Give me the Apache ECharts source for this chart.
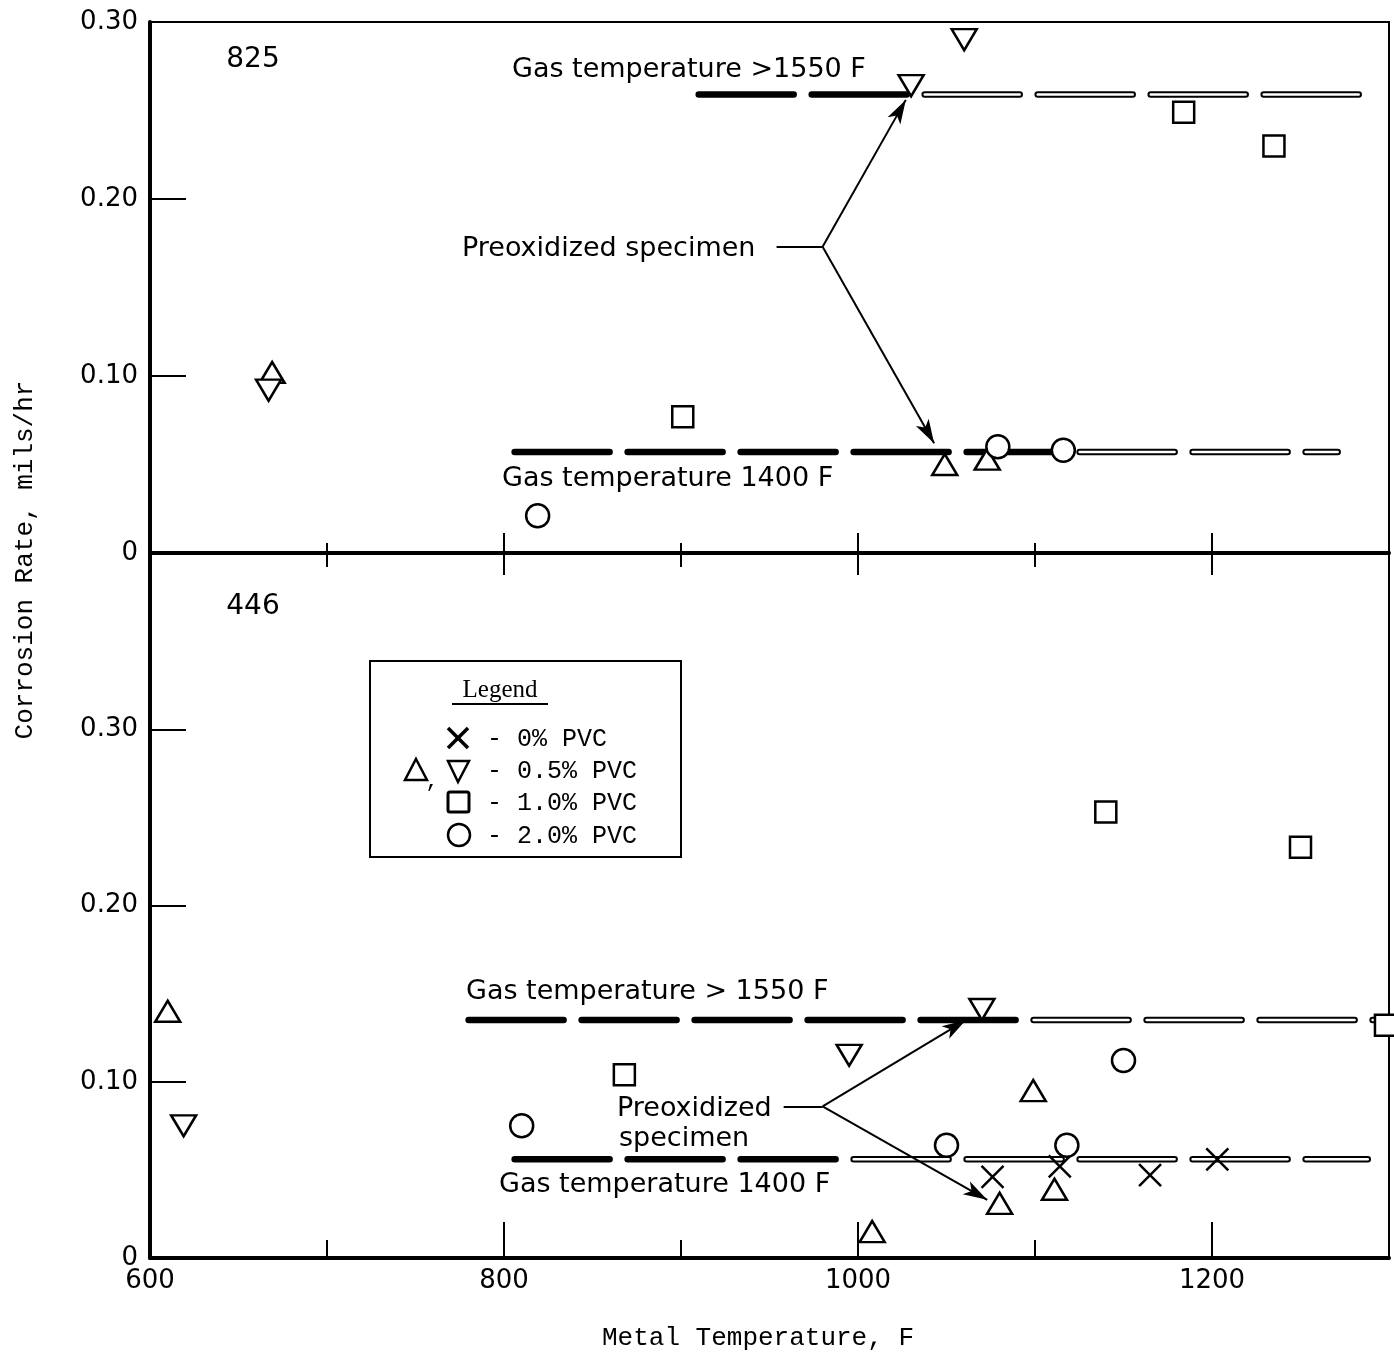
<!DOCTYPE html>
<html>
<head>
<meta charset="utf-8">
<title>Corrosion rate vs metal temperature</title>
<script src="https://cdn.jsdelivr.net/npm/echarts@6/dist/echarts.min.js"></script>
<style>
  html, body { margin: 0; padding: 0; background: #fff; }
  #main { width: 1394px; height: 1355px; }
</style>
</head>
<body>
<div id="main"></div>
<script>
// axis ranges
var xMin = 600, xMax = 1300;
var topYMax = 0.30, botYMax = 0.40;

// ---- alloy 825 (upper panel) ----
var top05Up = [[669, 0.102], [1049, 0.050], [1073, 0.053]];
var top05Down = [[667, 0.092], [1060, 0.290], [1030, 0.264]];
var top10 = [[901, 0.077], [1184, 0.249], [1235, 0.230]];
var top20 = [[819, 0.021], [1079, 0.060], [1116, 0.058]];
var topGasHigh = [[910, 0.259], [1289, 0.259]];
var topGasLow = [[806, 0.057], [1271, 0.057]];
// preoxidized pointer: lead start, fork, arrow tips
var topPointer = [[954, 0.173], [980, 0.173], [1027, 0.256], [1043, 0.062]];

// ---- alloy 446 (lower panel) ----
var bot00 = [[1076, 0.046], [1114, 0.052], [1165, 0.047], [1203, 0.056]];
var bot05Up = [[610, 0.140], [1008, 0.015], [1080, 0.031], [1099, 0.095], [1111, 0.039]];
var bot05Down = [[619, 0.075], [995, 0.115], [1070, 0.141]];
var bot10 = [[868, 0.104], [1140, 0.253], [1250, 0.233], [1298, 0.132]];
var bot20 = [[810, 0.075], [1050, 0.064], [1118, 0.064], [1150, 0.112]];
var botGasHigh = [[780, 0.135], [1298, 0.135]];
var botGasLow = [[806, 0.056], [1288, 0.056]];
var botPointer = [[958, 0.086], [980, 0.086], [1061, 0.135], [1073, 0.033]];

var myChart = echarts.init(document.getElementById('main'));

var sans = 'DejaVu Sans';
var mono = 'Liberation Mono';

function yFmt(v) {
    return v === 0 ? '0' : v.toFixed(2);
}

// open marker styles
var mk = { color: '#fff', borderColor: '#000', borderWidth: 2.5, opacity: 1 };
var crossPath = 'path://M0,0L20,20M20,0L0,20';

function scatter(data, symbol, size, rotate, xi, yi, extra) {
    var s = {
        type: 'scatter',
        data: data,
        symbol: symbol,
        symbolSize: size,
        symbolRotate: rotate,
        xAxisIndex: xi,
        yAxisIndex: yi,
        itemStyle: mk,
        clip: false,
        silent: true,
        z: 5
    };
    if (extra) {
        for (var k in extra) s[k] = extra[k];
    }
    return s;
}

// hollow part of the gas temperature dashes starts at frac
function hollow(frac) {
    return new echarts.graphic.LinearGradient(0, 0, 1, 0, [
        { offset: 0, color: 'rgba(255,255,255,0)' },
        { offset: frac, color: 'rgba(255,255,255,0)' },
        { offset: frac, color: '#fff' },
        { offset: 1, color: '#fff' }
    ]);
}

function gasLine(data, xi, yi, frac) {
    return [{
        type: 'line', data: data, xAxisIndex: xi, yAxisIndex: yi,
        symbol: 'none', silent: true, z: 2,
        lineStyle: { color: '#000', width: 6.5, type: [95, 18], cap: 'round' }
    }, {
        type: 'line', data: data, xAxisIndex: xi, yAxisIndex: yi,
        symbol: 'none', silent: true, z: 3,
        lineStyle: { color: hollow(frac), width: 2.5, type: [95, 18], cap: 'round' }
    }];
}

function pointer(p) {
    return {
        silent: true,
        animation: false,
        symbol: ['none', 'arrow'],
        symbolSize: [11, 24],
        label: { show: false },
        lineStyle: { color: '#000', width: 2, type: 'solid', opacity: 1 },
        data: [
            [{ coord: p[0], symbol: 'none' }, { coord: p[1], symbol: 'none' }],
            [{ coord: p[1] }, { coord: p[2] }],
            [{ coord: p[1] }, { coord: p[3] }]
        ]
    };
}

function xAx(grid, pos, interval, tickLen, showLine, showLabel) {
    return {
        type: 'value', gridIndex: grid, position: pos,
        min: xMin, max: xMax, interval: interval,
        axisLine: { show: showLine, onZero: false, lineStyle: { color: '#000', width: 4 } },
        axisTick: { show: true, inside: true, length: tickLen, lineStyle: { color: '#000', width: 2 } },
        axisLabel: {
            show: showLabel, color: '#000', fontFamily: sans, fontSize: 26, margin: 10,
            showMaxLabel: false,
            formatter: function (v) { return String(v); }
        },
        splitLine: { show: false }
    };
}

function yAx(grid, max) {
    return {
        type: 'value', gridIndex: grid, min: 0, max: max, interval: 0.1,
        axisLine: { show: true, onZero: false, lineStyle: { color: '#000', width: 4 } },
        axisTick: { show: true, inside: true, length: 36, lineStyle: { color: '#000', width: 2 } },
        axisLabel: {
            color: '#000', fontFamily: sans, fontSize: 26, margin: 12,
            showMaxLabel: grid === 0, formatter: yFmt
        },
        splitLine: { show: false }
    };
}

function txt(x, y, s, font, align) {
    return {
        type: 'text', x: x, y: y, silent: true, z: 10,
        style: { text: s, font: font, fill: '#000', align: align || 'left', verticalAlign: 'middle' }
    };
}

var annFont = '27px ' + sans;
var legFont = '25px ' + mono;

var graphics = [
    txt(253, 60, '825', '28px ' + sans, 'center'),
    txt(512, 70, 'Gas temperature >1550 F', annFont),
    txt(462, 249, 'Preoxidized specimen', annFont),
    txt(502, 479, 'Gas temperature 1400 F', annFont),
    txt(253, 607, '446', '28px ' + sans, 'center'),
    txt(466, 992, 'Gas temperature > 1550 F', annFont),
    txt(617, 1109, 'Preoxidized', annFont),
    txt(619, 1139, 'specimen', annFont),
    txt(499, 1185, 'Gas temperature 1400 F', annFont),
    // axis names
    txt(758, 1338, 'Metal Temperature, F', '26px ' + mono, 'center'),
    {
        type: 'text', x: 25, y: 560, rotation: Math.PI / 2, silent: true,
        style: { text: 'Corrosion Rate, mils/hr', font: '26px ' + mono, fill: '#000', align: 'center', verticalAlign: 'middle' }
    },
    // legend box
    {
        type: 'rect', silent: true, z: 8,
        shape: { x: 370, y: 661, width: 311, height: 196 },
        style: { fill: '#fff', stroke: '#000', lineWidth: 2 }
    },
    txt(500, 690, 'Legend', '25px Liberation Serif', 'center'),
    { type: 'line', silent: true, z: 10, shape: { x1: 452, y1: 704, x2: 548, y2: 704 }, style: { stroke: '#000', lineWidth: 2 } },
    // cross
    { type: 'polyline', silent: true, z: 10, shape: { points: [[448, 728], [468, 748]] }, style: { stroke: '#000', lineWidth: 3.5, fill: null } },
    { type: 'polyline', silent: true, z: 10, shape: { points: [[468, 728], [448, 748]] }, style: { stroke: '#000', lineWidth: 3.5, fill: null } },
    // up and down triangle
    { type: 'polygon', silent: true, z: 10, shape: { points: [[416, 759], [427, 780], [405, 780]] }, style: { stroke: '#000', lineWidth: 2.5, fill: '#fff' } },
    txt(432, 781, ',', '22px ' + mono, 'center'),
    { type: 'polygon', silent: true, z: 10, shape: { points: [[448, 761], [469, 761], [458, 782]] }, style: { stroke: '#000', lineWidth: 2.5, fill: '#fff' } },
    // square
    { type: 'rect', silent: true, z: 10, shape: { x: 448, y: 792, width: 21, height: 20, r: 2 }, style: { stroke: '#000', lineWidth: 3, fill: '#fff' } },
    // circle
    { type: 'circle', silent: true, z: 10, shape: { cx: 459, cy: 835, r: 11 }, style: { stroke: '#000', lineWidth: 2.5, fill: '#fff' } },
    txt(487, 739, '- 0% PVC', legFont),
    txt(487, 771, '- 0.5% PVC', legFont),
    txt(487, 803, '- 1.0% PVC', legFont),
    txt(487, 836, '- 2.0% PVC', legFont)
];

var series = [].concat(
    gasLine(topGasHigh, 0, 0, 0.32),
    gasLine(topGasLow, 0, 0, 0.67),
    gasLine(botGasHigh, 4, 1, 0.61),
    gasLine(botGasLow, 4, 1, 0.39),
    [
        scatter(top05Up, 'triangle', [25, 21], 0, 0, 0, { markLine: pointer(topPointer) }),
        scatter(top05Down, 'triangle', [25, 21], 180, 0, 0),
        scatter(top10, 'rect', 21, 0, 0, 0),
        scatter(top20, 'circle', 23, 0, 0, 0),
        scatter(bot00, crossPath, 22, 0, 4, 1, { itemStyle: { color: 'none', borderColor: '#000', borderWidth: 2.5, opacity: 1 } }),
        scatter(bot05Up, 'triangle', [25, 21], 0, 4, 1, { markLine: pointer(botPointer) }),
        scatter(bot05Down, 'triangle', [25, 21], 180, 4, 1),
        scatter(bot10, 'rect', 21, 0, 4, 1),
        scatter(bot20, 'circle', 23, 0, 4, 1)
    ]
);

var option = {
    animation: false,
    backgroundColor: '#fff',
    textStyle: { fontFamily: sans },
    grid: [
        { left: 150, top: 22, width: 1239, height: 531, show: true, borderColor: '#000', borderWidth: 2, backgroundColor: 'transparent' },
        { left: 150, top: 553, width: 1239, height: 705, show: true, borderColor: '#000', borderWidth: 2, backgroundColor: 'transparent' }
    ],
    xAxis: [
        xAx(0, 'bottom', 100, 10, true, false),
        xAx(0, 'bottom', 200, 20, false, false),
        xAx(1, 'top', 100, 14, false, false),
        xAx(1, 'top', 200, 22, false, false),
        xAx(1, 'bottom', 100, 18, true, false),
        xAx(1, 'bottom', 200, 36, false, true)
    ],
    yAxis: [
        yAx(0, topYMax),
        yAx(1, botYMax)
    ],
    graphic: graphics,
    series: series
};

myChart.setOption(option);
</script>
</body>
</html>
